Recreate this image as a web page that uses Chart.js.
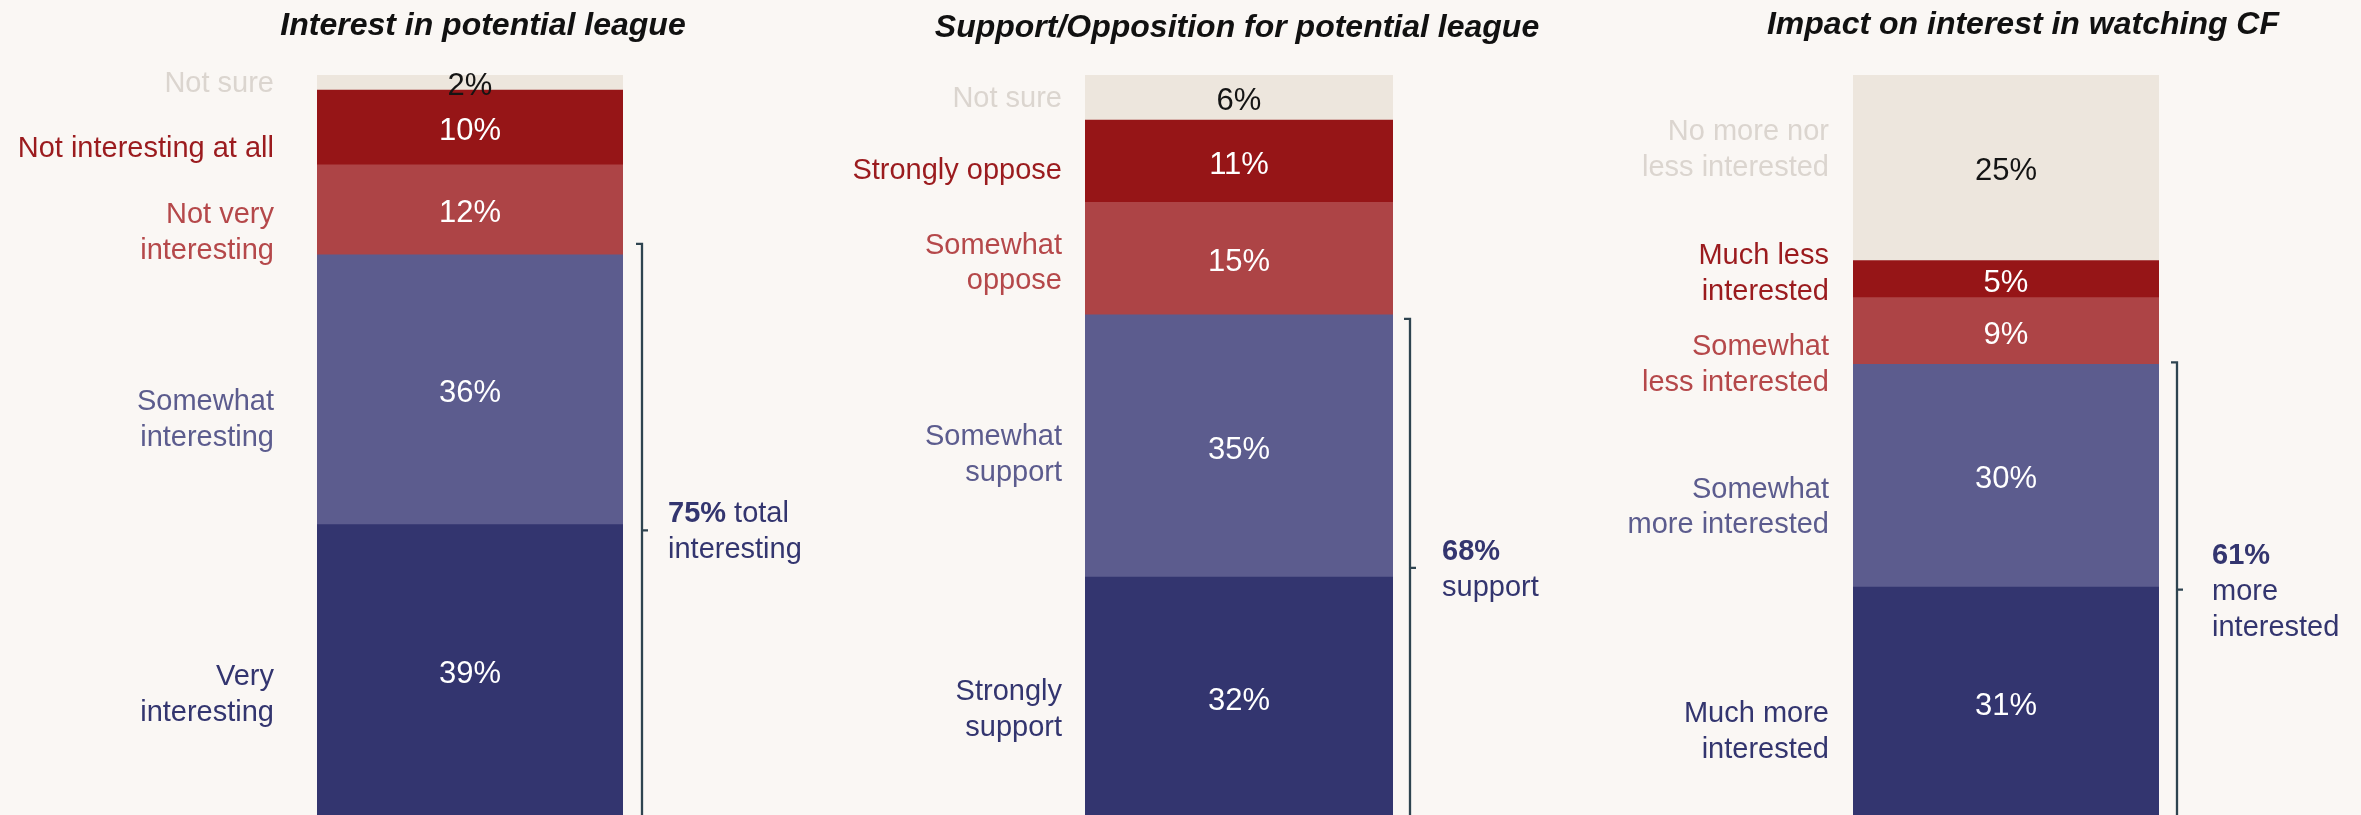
<!DOCTYPE html>
<html><head><meta charset="utf-8">
<script src="https://cdn.jsdelivr.net/npm/chart.js@4/dist/chart.umd.min.js"></script>
<style>
html,body{margin:0;padding:0;background:#FAF7F4;overflow:hidden;width:2361px;height:815px;}
canvas{position:absolute;left:0;top:0;}
</style></head><body>
<canvas id="c0" width="2361" height="820"></canvas>
<canvas id="c1" width="2361" height="820"></canvas>
<canvas id="c2" width="2361" height="820"></canvas>
<script>
// ---- data ----
const titles = ['Interest in potential league', 'Support/Opposition for potential league', 'Impact on interest in watching CF'];

const interestCategories = [['Very', 'interesting'], ['Somewhat', 'interesting'], ['Not very', 'interesting'], ['Not interesting at all'], ['Not sure']];
const interestValues = [39, 36, 12, 10, 2];

const supportCategories = [['Strongly', 'support'], ['Somewhat', 'support'], ['Somewhat', 'oppose'], ['Strongly oppose'], ['Not sure']];
const supportValues = [32, 35, 15, 11, 6];

const impactCategories = [['Much more', 'interested'], ['Somewhat', 'more interested'], ['Somewhat', 'less interested'], ['Much less', 'interested'], ['No more nor', 'less interested']];
const impactValues = [31, 30, 9, 5, 25];

const summaryBold = ['75%', '68%', '61%'];
const summaryText = [[' total', 'interesting'], ['', 'support'], ['', 'more', 'interested']];
const bracketCount = [2, 2, 2]; // number of bottom segments grouped by the bracket

// ---- styles / layout ----
const segColors = ['#33356F', '#5C5C8E', '#AD4446', '#961517', '#EDE6DD'];
const labelColors = ['#33356F', '#5C5C8E', '#B5484A', '#9B1B1E', '#DBD5CF'];
const valueColors = ['#FFFFFF', '#FFFFFF', '#FFFFFF', '#FFFFFF', '#141414'];
const FONT = '"Liberation Sans", Arial, sans-serif';
const W = 2361, H = 820, TOP = 75, BOTTOM = 817;

const layouts = [
  {barL: 317, barR: 623, titleX: 483, titleY: 26, labelRight: 274, labelNudge: [24, 30, 23, 22, 2], bracketX: 642, bracketTopNudge: -11, summaryX: 668},
  {barL: 1085, barR: 1393, titleX: 1237, titleY: 28, labelRight: 1062, labelNudge: [13, 9, 5, 10, 2], bracketX: 1410, bracketTopNudge: 4, summaryX: 1442},
  {barL: 1853, barR: 2159, titleX: 2023, titleY: 25, labelRight: 1829, labelNudge: [30, 32, 34, -5, -18], bracketX: 2177, bracketTopNudge: -2, summaryX: 2212}
];

const panels = [
  {cats: interestCategories, vals: interestValues},
  {cats: supportCategories, vals: supportValues},
  {cats: impactCategories, vals: impactValues}
];

const annotate = {
  id: 'annotate',
  afterDatasetsDraw(chart, args, opts) {
    const p = opts.panel, L = opts.layout, k = opts.k;
    const ctx = chart.ctx;
    ctx.save();
    // title
    ctx.font = 'italic bold 32px ' + FONT;
    ctx.fillStyle = '#111111';
    ctx.textAlign = 'center';
    ctx.textBaseline = 'middle';
    ctx.fillText(titles[k], L.titleX, L.titleY);

    const lh = 35.5;
    p.vals.forEach((v, i) => {
      const bar = chart.getDatasetMeta(i).data[0];
      const top = Math.min(bar.y, bar.base), bot = Math.max(bar.y, bar.base);
      const cy = (top + bot) / 2;
      // value
      ctx.font = '31px ' + FONT;
      ctx.fillStyle = valueColors[i];
      ctx.textAlign = 'center';
      ctx.fillText(v + '%', bar.x, cy + 4);
      // category label
      ctx.font = '29px ' + FONT;
      ctx.fillStyle = labelColors[i];
      ctx.textAlign = 'right';
      const lines = p.cats[i];
      const c = cy + L.labelNudge[i];
      lines.forEach((t, j) => {
        ctx.fillText(t, L.labelRight, c + (j - (lines.length - 1) / 2) * lh);
      });
    });

    // bracket
    const n = bracketCount[k];
    const topBar = chart.getDatasetMeta(n - 1).data[0];
    const bTop = topBar.y + L.bracketTopNudge;
    const bBot = chart.chartArea.bottom;
    const mid = (bTop + bBot) / 2;
    ctx.strokeStyle = '#2E4450';
    ctx.lineWidth = 2.3;
    ctx.beginPath();
    ctx.moveTo(L.bracketX - 6, bTop);
    ctx.lineTo(L.bracketX, bTop);
    ctx.lineTo(L.bracketX, bBot + 5);
    ctx.moveTo(L.bracketX, mid);
    ctx.lineTo(L.bracketX + 6, mid);
    ctx.stroke();

    // summary
    const sl = summaryText[k];
    ctx.textAlign = 'left';
    ctx.fillStyle = '#33356F';
    const sh = 36;
    sl.forEach((t, j) => {
      const y = mid + 2 + (j - (sl.length - 1) / 2) * sh;
      let x = L.summaryX;
      if (j === 0) {
        ctx.font = 'bold 29px ' + FONT;
        ctx.fillText(summaryBold[k], x, y);
        x += ctx.measureText(summaryBold[k]).width;
      }
      ctx.font = '29px ' + FONT;
      ctx.fillText(t, x, y);
    });
    ctx.restore();
  }
};

panels.forEach((p, k) => {
  const L = layouts[k];
  const total = p.vals.reduce((a, b) => a + b, 0);
  new Chart(document.getElementById('c' + k), {
    type: 'bar',
    data: {
      labels: [''],
      datasets: p.vals.map((v, i) => ({
        label: p.cats[i].join(' '),
        data: [v],
        backgroundColor: segColors[i],
        borderWidth: 0,
        barPercentage: 1,
        categoryPercentage: 1
      }))
    },
    options: {
      responsive: false,
      animation: false,
      devicePixelRatio: 1,
      layout: {padding: {left: L.barL, right: W - L.barR, top: TOP, bottom: H - BOTTOM}},
      scales: {
        x: {stacked: true, display: false},
        y: {stacked: true, display: false, min: 0, max: total}
      },
      plugins: {
        legend: {display: false},
        tooltip: {enabled: false},
        title: {display: false},
        annotate: {panel: p, layout: L, k: k}
      }
    },
    plugins: [annotate]
  });
});
</script>
</body></html>
